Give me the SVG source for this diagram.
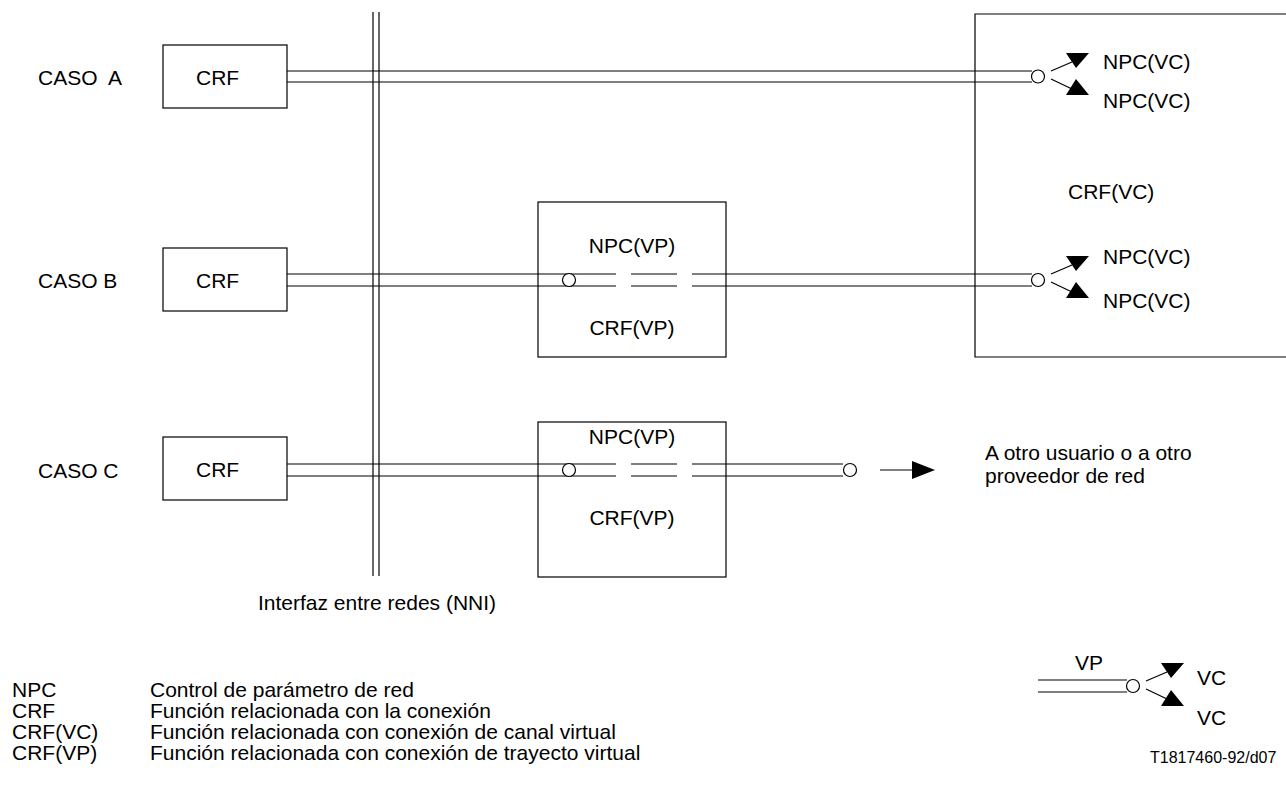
<svg xmlns="http://www.w3.org/2000/svg" width="1286" height="791" viewBox="0 0 1286 791">
  <style>
    text { font-family: "Liberation Sans", Arial, sans-serif; font-size: 21px; fill: #000; }
    .mid { text-anchor: middle; }
    .box { fill: #fff; stroke: #000; stroke-width: 1.2; }
    .ln { stroke: #000; stroke-width: 1.2; fill: none; }
    .ring { fill: #fff; stroke: #000; stroke-width: 1.2; }
    .head { fill: #000; }
    .small { font-size: 16px; }
  </style>

  <!-- interface between networks: double vertical line -->
  <g id="nni">
    <line class="ln" x1="373" y1="12" x2="373" y2="576"/>
    <line class="ln" x1="379" y1="12" x2="379" y2="576"/>
    <text x="258" y="610">Interfaz entre redes (NNI)</text>
  </g>

  <!-- case labels -->
  <g id="labels">
    <text x="38" y="85" xml:space="preserve">CASO  A</text>
    <text x="38" y="288">CASO B</text>
    <text x="38" y="478">CASO C</text>
  </g>

  <!-- connection related function at the user side -->
  <g id="crf-a">
    <rect class="box" x="163" y="45" width="124" height="63"/>
    <text x="196" y="85">CRF</text>
  </g>
  <g id="crf-b">
    <rect class="box" x="163" y="248" width="124" height="63"/>
    <text x="196" y="288">CRF</text>
  </g>
  <g id="crf-c">
    <rect class="box" x="163" y="437" width="124" height="63"/>
    <text x="196" y="477">CRF</text>
  </g>

  <!-- VP level network elements -->
  <g id="crf-vp-b">
    <rect class="box" x="538" y="202" width="188" height="155"/>
    <text class="mid" x="632" y="253">NPC(VP)</text>
    <text class="mid" x="632" y="335">CRF(VP)</text>
  </g>
  <g id="crf-vp-c">
    <rect class="box" x="538" y="422" width="188" height="155"/>
    <text class="mid" x="632" y="444">NPC(VP)</text>
    <text class="mid" x="632" y="525">CRF(VP)</text>
  </g>

  <!-- VC level network element (open to the right) -->
  <g id="crf-vc">
    <path class="ln" d="M1290,14 H975 V357 H1290"/>
    <text x="1068" y="199">CRF(VC)</text>
    <text x="1103" y="69">NPC(VC)</text>
    <text x="1103" y="108">NPC(VC)</text>
    <text x="1103" y="264">NPC(VC)</text>
    <text x="1103" y="308">NPC(VC)</text>
  </g>

  <!-- far end of case C -->
  <g id="far-end">
    <text x="985" y="460">A otro usuario o a otro</text>
    <text x="985" y="483">proveedor de red</text>
  </g>

  <!-- virtual path connections -->
  <g id="connectors">
    <!-- case A -->
    <line class="ln" x1="287" y1="71" x2="1032" y2="71"/>
    <line class="ln" x1="287" y1="82" x2="1032" y2="82"/>
    <circle class="ring" cx="1038" cy="76.5" r="6.5"/>
    <line class="ln" x1="1051" y1="71" x2="1072" y2="62"/>
    <line class="ln" x1="1051" y1="79" x2="1072" y2="89"/>
    <polygon class="head" points="1066,53 1089,53 1076,68"/>
    <polygon class="head" points="1076,79 1089,95 1066,95"/>

    <!-- case B -->
    <path class="ln" d="M287,274 H616 M631,274 H677 M692,274 H1032 M287,286 H616 M631,286 H677 M692,286 H1032"/>
    <circle class="ring" cx="569" cy="280" r="6.5"/>
    <circle class="ring" cx="1038" cy="280" r="6.5"/>
    <line class="ln" x1="1051" y1="274" x2="1072" y2="265"/>
    <line class="ln" x1="1051" y1="282" x2="1072" y2="292"/>
    <polygon class="head" points="1066,256 1089,256 1076,271"/>
    <polygon class="head" points="1076,282 1089,298 1066,298"/>

    <!-- case C -->
    <path class="ln" d="M287,464 H616 M631,464 H677 M692,464 H843 M287,476 H616 M631,476 H677 M692,476 H843"/>
    <circle class="ring" cx="569" cy="470" r="6.5"/>
    <circle class="ring" cx="850" cy="470" r="6.5"/>
    <line class="ln" x1="880" y1="470" x2="914" y2="470"/>
    <polygon class="head" points="912,461 935,470 912,479"/>
  </g>

  <!-- key -->
  <g id="key">
    <text x="1075" y="670">VP</text>
    <line class="ln" x1="1038" y1="680" x2="1127" y2="680"/>
    <line class="ln" x1="1038" y1="692" x2="1127" y2="692"/>
    <circle class="ring" cx="1133" cy="686" r="6.5"/>
    <line class="ln" x1="1146" y1="681" x2="1167" y2="672"/>
    <line class="ln" x1="1146" y1="689" x2="1167" y2="699"/>
    <polygon class="head" points="1161,663 1184,663 1171,678"/>
    <polygon class="head" points="1171,690 1184,706 1161,706"/>
    <text x="1197" y="685">VC</text>
    <text x="1197" y="725">VC</text>
    <text class="small" x="1150" y="763">T1817460-92/d07</text>
  </g>

  <!-- abbreviations -->
  <g id="legend">
    <text x="12" y="697">NPC</text>
    <text x="150" y="697">Control de parámetro de red</text>
    <text x="12" y="718">CRF</text>
    <text x="150" y="718">Función relacionada con la conexión</text>
    <text x="12" y="739">CRF(VC)</text>
    <text x="150" y="739">Función relacionada con conexión de canal virtual</text>
    <text x="12" y="760">CRF(VP)</text>
    <text x="150" y="760">Función relacionada con conexión de trayecto virtual</text>
  </g>
</svg>
